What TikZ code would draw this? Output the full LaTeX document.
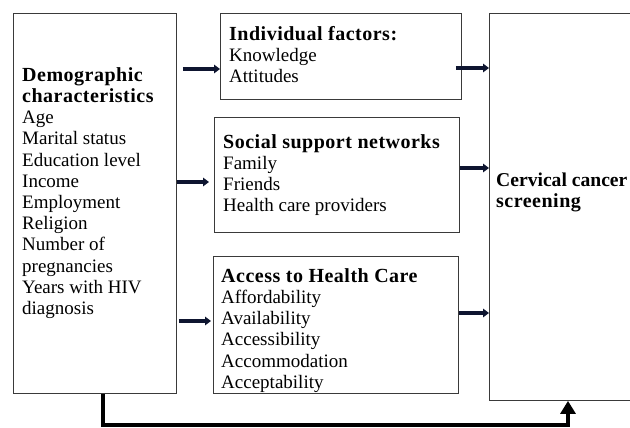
\documentclass[tikz,border=0pt]{standalone}
\usepackage{fontspec}
\setmainfont{Liberation Serif}
\usetikzlibrary{arrows.meta}
\definecolor{boxline}{HTML}{3A3A3A}
\definecolor{arrcol}{HTML}{0E1530}
\begin{document}
\begin{tikzpicture}[x=1pt,y=-1pt,
  box/.style 2 args={draw=boxline,line width=0.9pt,anchor=north west,inner sep=0pt,minimum width=#1,minimum height=#2},
  txt/.style={anchor=north west,inner sep=0pt,align=left,font=\fontsize{19}{21.2}\selectfont},
  arr/.style={draw=arrcol,line width=3.2pt,-{Triangle[length=6pt,width=8.5pt]}},
  bigarr/.style={draw=black,line width=3.6pt,-{Triangle[length=13pt,width=15pt]}}]
\useasboundingbox (0,0) rectangle (630,428);
\clip (0,0) rectangle (630,428);
\fill[white] (0,0) rectangle (630,428);
\newcommand{\hd}[1]{{\bfseries\fontsize{20}{21.2}\selectfont\addfontfeature{LetterSpace=2.5}#1}}
\newcommand{\hdn}[1]{{\bfseries\fontsize{19.6}{21.2}\selectfont #1}}
\newcommand{\fl}{\rule{0pt}{14pt}}
% boxes
\node[box={163pt}{380pt}] (demo) at (13,13) {};
\node[box={241pt}{86pt}] (ind) at (220,13) {};
\node[box={245pt}{115pt}] (soc) at (214,117) {};
\node[box={245pt}{137pt}] (acc) at (213,256) {};
\node[box={171pt}{387pt}] (ccs) at (489,13) {};
% texts
\node[txt] (demotxt) at (22,67) {\fl\hd{Demographic}\\\hd{characteristics}\\Age\\Marital status\\Education level\\Income\\Employment\\Religion\\Number of\\pregnancies\\Years with HIV\\diagnosis};
\node[txt] (indtxt) at (229,26) {\fl\hd{Individual factors:}\\Knowledge\\Attitudes};
\node[txt] (soctxt) at (223,134) {\fl\hd{Social support networks}\\Family\\Friends\\Health care providers};
\node[txt] (acctxt) at (221,268) {\fl\hd{Access to Health Care}\\Affordability\\Availability\\Accessibility\\Accommodation\\Acceptability};
\node[txt] (ccstxt) at (496,172) {\fl\hdn{Cervical cancer}\\\hd{screening}};
% arrow rows
\coordinate (r1) at (0,69);
\coordinate (r2) at (0,182);
\coordinate (r3) at (0,321);
\coordinate (q1) at (0,68);
\coordinate (q2) at (0,168);
\coordinate (q3) at (0,313);
\draw[arr] ([xshift=6pt]demo.east |- r1) -- (ind.west |- r1);
\draw[arr] (demo.east |- r2) -- ([xshift=-5pt]soc.west |- r2);
\draw[arr] ([xshift=2pt]demo.east |- r3) -- ([xshift=-2pt]acc.west |- r3);
\draw[arr] ([xshift=-6pt]ind.east |- q1) -- (ccs.west |- q1);
\draw[arr] (soc.east |- q2) -- (ccs.west |- q2);
\draw[arr] (acc.east |- q3) -- (ccs.west |- q3);
% bottom connector
\coordinate (bl) at (103,425);
\coordinate (br) at (568,425);
\draw[bigarr] (demo.south -| bl) -- (bl) -- (br) -- (ccs.south -| br);
\end{tikzpicture}
\end{document}
